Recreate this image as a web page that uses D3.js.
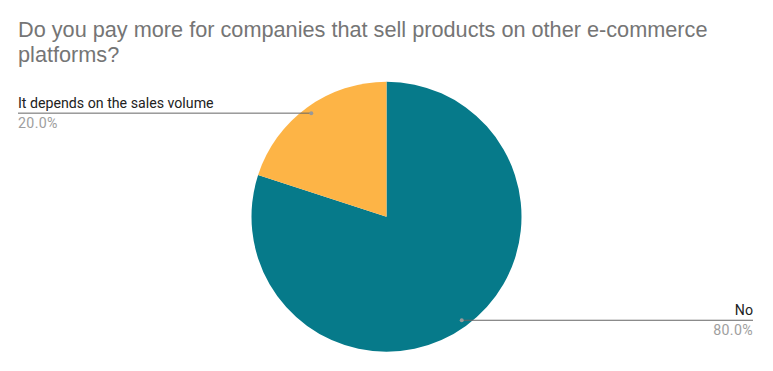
<!DOCTYPE html>
<html><head><meta charset="utf-8">
<script src="https://cdn.jsdelivr.net/npm/d3@7"></script>
<style>html,body{margin:0;padding:0;background:#fff;}</style>
</head><body>
<script>
const titleLines = ["Do you pay more for companies that sell products on other e-commerce", "platforms?"];
const categories = ["No", "It depends on the sales volume"];
const values = [80, 20];
const colors = ["#067a8a", "#fdb446"];

const W = 773, H = 371;
const svg = d3.select("body").append("svg").attr("width", W).attr("height", H);

svg.append("g").selectAll("text").data(titleLines).join("text")
  .attr("x", 18).attr("y", (d, i) => 37 + i * 25)
  .attr("font-family", "Liberation Sans, Arial, sans-serif")
  .attr("font-size", 21.7).attr("fill", "#757575").text(d => d);

const cx = 386.5, cy = 216.7, r = 135;
const data = categories.map((c, i) => ({ c, v: values[i], col: colors[i] }));
const pie = d3.pie().sort(null).value(d => d.v);
const arcs = pie(data);
const arc = d3.arc().innerRadius(0).outerRadius(r);
const g = svg.append("g").attr("transform", `translate(${cx},${cy})`);
g.selectAll("path").data(arcs).join("path").attr("d", arc).attr("fill", d => d.data.col);

const total = d3.sum(values);
const fmt = d3.format(".1%");
const lr = 128;
arcs.forEach(a => {
  const m = (a.startAngle + a.endAngle) / 2;
  const px = cx + Math.sin(m) * lr, py = cy - Math.cos(m) * lr;
  const right = Math.sin(m) > 0;
  const ex = right ? 753 : 18;
  svg.append("line").attr("x1", px).attr("y1", py).attr("x2", ex).attr("y2", py)
    .attr("stroke", "#666").attr("stroke-width", 1);
  svg.append("circle").attr("cx", px).attr("cy", py).attr("r", 2).attr("fill", "#999");
  const anchor = right ? "end" : "start";
  svg.append("text").attr("x", ex).attr("y", py - 5.5).attr("text-anchor", anchor)
    .attr("font-family", "Roboto, sans-serif").attr("font-size", 14.2).attr("fill", "#222")
    .text(a.data.c);
  svg.append("text").attr("x", ex).attr("y", py + 14.5).attr("text-anchor", anchor)
    .attr("font-family", "Roboto, sans-serif").attr("font-size", 14.2).attr("fill", "#9e9e9e")
    .attr("letter-spacing", 0.35)
    .text(fmt(a.data.v / total));
});
</script>
</body></html>
